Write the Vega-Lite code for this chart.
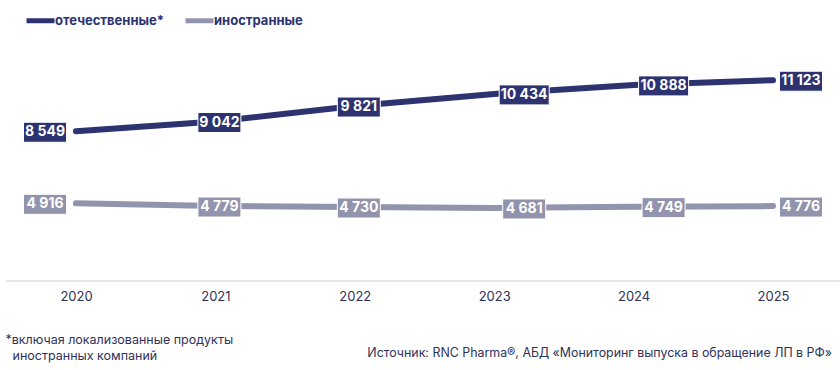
{
  "$schema": "https://vega.github.io/schema/vega-lite/v6.json",
  "width": 840,
  "height": 238,
  "autosize": {"type": "none"},
  "padding": {"left": 0, "right": 0, "top": 43, "bottom": 89},
  "background": "#ffffff",
  "config": {
    "view": {"stroke": null},
    "font": "Inter",
    "locale": {"number": {"decimal": ",", "thousands": "\u00a0", "grouping": [3], "currency": ["", ""]}},
    "legend": {
      "orient": "none", "legendX": 24, "legendY": -39, "direction": "horizontal",
      "symbolType": "stroke", "symbolStrokeWidth": 5, "symbolSize": 784,
      "labelFontSize": 13, "labelFontWeight": "bold", "labelColor": "#2d3270", "labelFont": "Inter",
      "labelOffset": -2, "columnPadding": 10
    }
  },
  "title": {
    "text": "Источник: RNC Pharma®, АБД «Мониторинг выпуска в обращение ЛП в РФ»",
    "orient": "bottom", "anchor": "end", "frame": "group",
    "fontSize": 12.4, "fontWeight": "normal", "color": "#2f3159", "font": "Inter",
    "offset": 0, "dx": -8, "dy": -15
  },
  "data": {
    "values": [
      {"type": "отечественные*", "year": 2020, "value": 8549},
      {"type": "отечественные*", "year": 2021, "value": 9042},
      {"type": "отечественные*", "year": 2022, "value": 9821},
      {"type": "отечественные*", "year": 2023, "value": 10434},
      {"type": "отечественные*", "year": 2024, "value": 10888},
      {"type": "отечественные*", "year": 2025, "value": 11123},
      {"type": "иностранные", "year": 2020, "value": 4916},
      {"type": "иностранные", "year": 2021, "value": 4779},
      {"type": "иностранные", "year": 2022, "value": 4730},
      {"type": "иностранные", "year": 2023, "value": 4681},
      {"type": "иностранные", "year": 2024, "value": 4749},
      {"type": "иностранные", "year": 2025, "value": 4776}
    ]
  },
  "encoding": {
    "x": {
      "field": "year", "type": "quantitative",
      "scale": {"domain": [2019.4548, 2025.4806], "nice": false, "zero": false}
    },
    "y": {
      "field": "value", "type": "quantitative",
      "scale": {"domain": [1000, 13000], "nice": false, "zero": false},
      "axis": null
    }
  },
  "layer": [
    {
      "mark": {"type": "rule", "color": "#e4e4e8", "strokeWidth": 1},
      "encoding": {
        "x": {"datum": 2019.5, "type": "quantitative"},
        "x2": {"datum": 2025.48},
        "y": {"datum": 1000, "type": "quantitative"}
      }
    },
    {
      "mark": {"type": "line", "strokeWidth": 6, "strokeCap": "round", "strokeJoin": "round"},
      "encoding": {
        "x": {
          "field": "year", "type": "quantitative",
          "axis": {
            "values": [2020, 2021, 2022, 2023, 2024, 2025], "format": "d",
            "ticks": false, "domain": false, "grid": false,
            "labelFontSize": 13, "labelColor": "#2f3159", "labelPadding": 9, "labelFont": "Inter",
            "title": ["*включая локализованные продукты", "\u200b\u00a0\u00a0иностранных компаний"],
            "titleX": 5, "titleY": 52, "titleAlign": "left", "titleBaseline": "top",
            "titleFontWeight": "normal", "titleFontSize": 12.5, "titleColor": "#2f3159",
            "titleFont": "Inter", "titleLineHeight": 16
          }
        },
        "color": {
          "field": "type", "type": "nominal",
          "scale": {"domain": ["отечественные*", "иностранные"], "range": ["#2d3270", "#9293ad"]},
          "legend": {"title": null}
        }
      }
    },
    {
      "transform": [{"filter": "datum.year == 2020"}],
      "layer": [
        {"mark": {"type": "rect", "stroke": "#ffffff", "strokeWidth": 1, "xOffset": -52.5, "x2Offset": -9.5, "yOffset": -9, "y2Offset": 11},
         "encoding": {"x2": {"field": "year"}, "y2": {"field": "value"}, "color": {"condition": {"test": "datum.type === 'иностранные'", "value": "#9293ad"}, "value": "#2d3270"}}},
        {"mark": {"type": "text", "color": "#ffffff", "fontSize": 14, "fontWeight": "bold", "font": "Inter", "baseline": "middle", "align": "center", "dy": 1, "dx": -31},
         "encoding": {"text": {"field": "value", "type": "quantitative", "format": ",d"}}}
      ]
    },
    {
      "transform": [{"filter": "datum.year == 2021 || datum.year == 2022"}],
      "layer": [
        {"mark": {"type": "rect", "stroke": "#ffffff", "strokeWidth": 1, "xOffset": -17.5, "x2Offset": 25.5, "yOffset": -9, "y2Offset": 11},
         "encoding": {"x2": {"field": "year"}, "y2": {"field": "value"}, "color": {"condition": {"test": "datum.type === 'иностранные'", "value": "#9293ad"}, "value": "#2d3270"}}},
        {"mark": {"type": "text", "color": "#ffffff", "fontSize": 14, "fontWeight": "bold", "font": "Inter", "baseline": "middle", "align": "center", "dy": 1, "dx": 4},
         "encoding": {"text": {"field": "value", "type": "quantitative", "format": ",d"}}}
      ]
    },
    {
      "transform": [{"filter": "(datum.year == 2023 || datum.year == 2024) && datum.value < 10000"}],
      "mark": {"type": "rect", "stroke": "#ffffff", "strokeWidth": 1, "xOffset": 8.5, "x2Offset": 51.5, "yOffset": -9, "y2Offset": 11},
      "encoding": {"x2": {"field": "year"}, "y2": {"field": "value"}, "color": {"value": "#9293ad"}}
    },
    {
      "transform": [{"filter": "(datum.year == 2023 || datum.year == 2024) && datum.value >= 10000"}],
      "mark": {"type": "rect", "stroke": "#ffffff", "strokeWidth": 1, "xOffset": 5, "x2Offset": 55, "yOffset": -9, "y2Offset": 11},
      "encoding": {"x2": {"field": "year"}, "y2": {"field": "value"}, "color": {"value": "#2d3270"}}
    },
    {
      "transform": [{"filter": "datum.year == 2023 || datum.year == 2024"}],
      "mark": {"type": "text", "color": "#ffffff", "fontSize": 14, "fontWeight": "bold", "font": "Inter", "baseline": "middle", "align": "center", "dy": 1, "dx": 30},
      "encoding": {"text": {"field": "value", "type": "quantitative", "format": ",d"}}
    },
    {
      "transform": [{"filter": "datum.year == 2025"}],
      "layer": [
        {"mark": {"type": "rect", "stroke": "#ffffff", "strokeWidth": 1, "xOffset": 6.5, "x2Offset": 49.5, "yOffset": -9, "y2Offset": 11},
         "encoding": {"x2": {"field": "year"}, "y2": {"field": "value"}, "color": {"condition": {"test": "datum.type === 'иностранные'", "value": "#9293ad"}, "value": "#2d3270"}}},
        {"mark": {"type": "text", "color": "#ffffff", "fontSize": 14, "fontWeight": "bold", "font": "Inter", "baseline": "middle", "align": "center", "dy": 1, "dx": 28},
         "encoding": {"text": {"field": "value", "type": "quantitative", "format": ",d"}}}
      ]
    }
  ],
  "resolve": {"scale": {"x": "shared", "y": "shared"}}
}
